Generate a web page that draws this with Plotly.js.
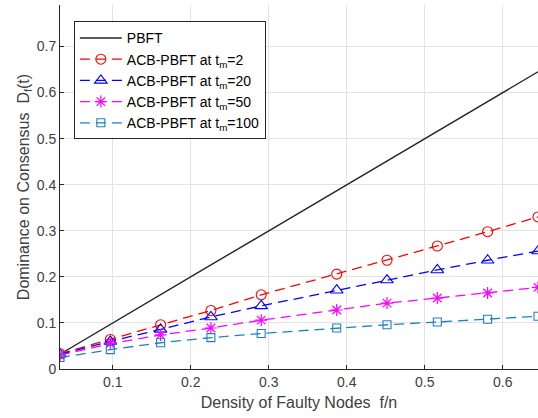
<!DOCTYPE html>
<html><head><meta charset="utf-8">
<script src="https://cdn.plot.ly/plotly-3.0.1.min.js"></script>
<style>html,body{margin:0;padding:0;background:#fff;}#chart{width:538px;height:418px;}</style>
</head><body><div id="chart"></div>
<script>
const densityFN = [0.0323, 0.0968, 0.1613, 0.2258, 0.2903, 0.3871, 0.4516, 0.5161, 0.5806, 0.6452];
const pbft = [0.032, 0.097, 0.161, 0.226, 0.290, 0.387, 0.452, 0.516, 0.581, 0.645];
const acbTm2 = [0.033, 0.064, 0.096, 0.127, 0.161, 0.206, 0.236, 0.267, 0.298, 0.330];
const acbTm20 = [0.032, 0.060, 0.086, 0.113, 0.137, 0.171, 0.193, 0.215, 0.236, 0.256];
const acbTm50 = [0.030, 0.055, 0.074, 0.089, 0.106, 0.128, 0.143, 0.154, 0.165, 0.177];
const acbTm100 = [0.025, 0.042, 0.057, 0.068, 0.077, 0.089, 0.096, 0.102, 0.108, 0.1145];
const seriesNames = ['PBFT', 'ACB-PBFT at t<sub>m</sub>=2', 'ACB-PBFT at t<sub>m</sub>=20', 'ACB-PBFT at t<sub>m</sub>=50', 'ACB-PBFT at t<sub>m</sub>=100'];
const xTicks = [0.1, 0.2, 0.3, 0.4, 0.5, 0.6];
const yTicks = [0, 0.1, 0.2, 0.3, 0.4, 0.5, 0.6, 0.7];

const dash = '10px,6px';
const traces = [
  {x: densityFN, y: pbft, name: seriesNames[0], mode: 'lines', line: {color: '#262626', width: 1.4}},
  {x: densityFN, y: acbTm2, name: seriesNames[1], mode: 'lines+markers', line: {color: '#ff0000', width: 1.3, dash: dash}, marker: {symbol: 'circle-open', size: 10, color: '#ff0000', line: {width: 1.1}}},
  {x: densityFN, y: acbTm20, name: seriesNames[2], mode: 'lines+markers', line: {color: '#0000ff', width: 1.3, dash: dash}, marker: {symbol: 'triangle-up-open', size: 11, color: '#0000ff', line: {width: 1.1}}},
  {x: densityFN, y: acbTm50, name: seriesNames[3], mode: 'lines+markers', line: {color: '#ff00ff', width: 1.3, dash: dash}, marker: {symbol: 'asterisk-open', size: 10, color: '#ff00ff', line: {width: 1.2, color: '#ff00ff'}}},
  {x: densityFN, y: acbTm100, name: seriesNames[4], mode: 'lines+markers', line: {color: '#1f80c0', width: 1.3, dash: dash}, marker: {symbol: 'square-open', size: 8, color: '#1f80c0', line: {width: 1.1}}}
];

const layout = {
  width: 538, height: 418,
  margin: {l: 60, r: 0, t: 5, b: 49},
  paper_bgcolor: '#fff', plot_bgcolor: '#fff',
  font: {family: 'Liberation Sans, Arial, sans-serif', color: '#262626', size: 14},
  showlegend: true,
  legend: {x: 0.029, y: 0.955, xanchor: 'left', yanchor: 'top', bgcolor: '#fff', bordercolor: '#262626', borderwidth: 1, itemwidth: 42, font: {size: 14, color: '#000'}, tracegroupgap: 0},
  xaxis: {
    range: [0.0323, 0.6452], tickvals: xTicks, ticktext: xTicks.map(v => v.toFixed(1)),
    showgrid: true, gridcolor: '#e3e3e3', gridwidth: 1, zeroline: false,
    showline: true, linecolor: '#262626', linewidth: 1, ticks: 'inside', ticklen: 4, tickcolor: '#262626',
    tickfont: {size: 14, color: '#404040'},
    title: {text: 'Density of Faulty Nodes\u00a0 f/n', font: {size: 16, color: '#404040'}, standoff: 8}
  },
  yaxis: {
    range: [0, 0.79], tickvals: yTicks, ticktext: yTicks.map(v => v === 0 ? '0' : v.toFixed(1)),
    showgrid: true, gridcolor: '#e3e3e3', gridwidth: 1, zeroline: false,
    showline: true, linecolor: '#262626', linewidth: 1, ticks: 'inside', ticklen: 4, tickcolor: '#262626',
    tickfont: {size: 14, color: '#404040'},
    title: {text: 'Dominance on Consensus\u00a0 D<sub>f</sub>(t)', font: {size: 16, color: '#404040'}, standoff: 3}
  }
};
Plotly.newPlot('chart', traces, layout, {displayModeBar: false, staticPlot: true});
</script></body></html>
